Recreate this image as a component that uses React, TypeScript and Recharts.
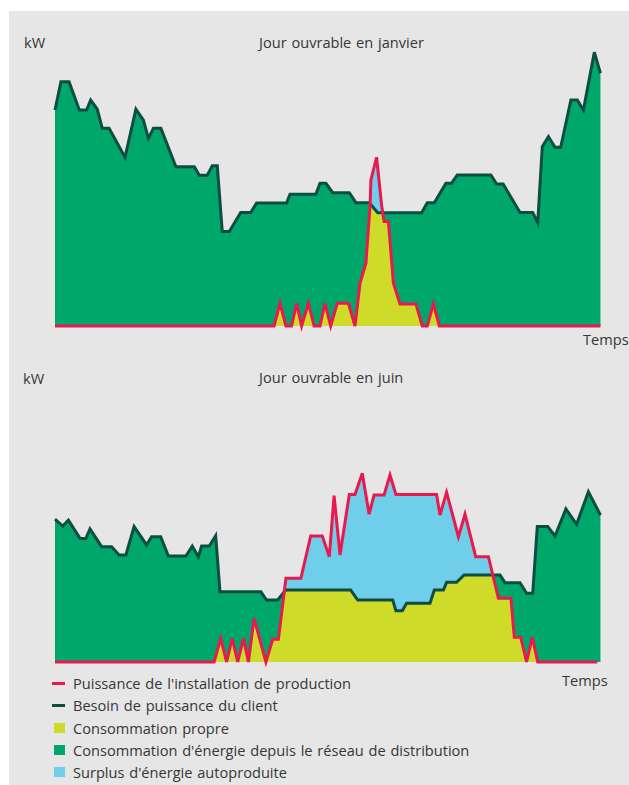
import React from 'react';
import { ComposedChart, Area, Line, XAxis, YAxis } from 'recharts';

// colours
const BG = '#e6e6e6';
const GRID_GREEN = '#00a76a';
const DEMAND_DARK = '#0e4d42';
const PROD_RED = '#e8194f';
const OWN_YELLOW = '#cfdb29';
const SURPLUS_BLUE = '#6fcfeb';
const TEXT = '#363636';
const FONT = '"Open Sans", sans-serif';

type Pt = [number, number]; // [hour, kW]

// Jour ouvrable en janvier
const janDemand: Pt[] = [
  [0, 73.2], [0.26, 82.8], [0.62, 82.8], [1.07, 73.2], [1.39, 73.2], [1.57, 76.6],
  [1.86, 73.5], [2.08, 67.0], [2.38, 67.0], [3.08, 57.2], [3.56, 73.5], [3.89, 69.8],
  [4.11, 63.6], [4.33, 67.0], [4.66, 67.0], [5.32, 54.0], [6.13, 54.0], [6.35, 51.1],
  [6.7, 51.1], [6.92, 54.3], [7.14, 54.3], [7.36, 32.0], [7.67, 32.0], [8.17, 38.5],
  [8.61, 38.5], [8.87, 41.7], [10.19, 41.7], [10.34, 44.7], [11.48, 44.7], [11.66, 48.4],
  [11.92, 48.4], [12.22, 45.2], [12.95, 45.2], [13.24, 41.8], [13.83, 41.8], [14.2, 38.4],
  [16.13, 38.4], [16.38, 41.8], [16.69, 41.8], [17.2, 48.4], [17.45, 48.4], [17.7, 51.2],
  [19.18, 51.2], [19.43, 48.1], [19.72, 48.1], [20.46, 38.5], [21.02, 38.5], [21.24, 35.0],
  [21.44, 60.8], [21.71, 64.2], [22.0, 60.6], [22.25, 60.6], [22.7, 76.6], [22.98, 76.6],
  [23.25, 73.2], [23.73, 92.8], [24, 85.7],
];
const janProduction: Pt[] = [
  [0, 0], [9.64, 0], [9.9, 7.7], [10.16, 0], [10.41, 0], [10.63, 7.7], [10.85, 0],
  [11.15, 7.7], [11.4, 0], [11.66, 0], [11.88, 7.7], [12.13, 0], [12.42, 7.7], [12.91, 7.7],
  [13.2, 0], [13.42, 14.5], [13.68, 21.3], [13.86, 40.4], [13.9, 49.5], [14.15, 57.2],
  [14.37, 41.0], [14.48, 35.4], [14.67, 35.4], [14.89, 14.5], [15.18, 7.5], [15.88, 7.5],
  [16.16, 0], [16.38, 0], [16.65, 7.5], [16.91, 0], [24, 0],
];

// Jour ouvrable en juin
const junDemand: Pt[] = [
  [0, 48.4], [0.34, 46.1], [0.59, 48.1], [1.1, 41.9], [1.36, 41.9], [1.54, 45.1],
  [2.05, 39.1], [2.49, 39.1], [2.82, 36.3], [3.12, 36.3], [3.48, 45.9], [4.03, 39.7],
  [4.25, 42.5], [4.65, 42.5], [4.99, 35.9], [5.76, 35.9], [6.04, 39.3], [6.31, 35.7],
  [6.45, 39.3], [6.79, 39.3], [7.07, 42.8], [7.26, 23.8], [9.06, 23.8], [9.31, 21.0],
  [9.8, 21.0], [10.15, 24.4], [13.01, 24.4], [13.32, 21.0], [14.86, 21.0], [15.0, 17.4],
  [15.28, 17.4], [15.47, 19.9], [16.5, 19.9], [16.69, 24.4], [17.09, 24.4], [17.23, 27.0],
  [17.67, 27.0], [18.0, 29.5], [19.58, 29.5], [19.8, 26.9], [20.46, 26.9], [20.75, 23.3],
  [21.02, 23.3], [21.22, 45.9], [21.68, 45.9], [22.0, 42.7], [22.48, 51.9], [22.95, 46.7],
  [23.47, 57.7], [24, 49.8],
];
const junProduction: Pt[] = [
  [0, 0], [7.0, 0], [7.29, 8.0], [7.55, 0], [7.8, 8.0], [8.04, 0], [8.29, 8.0], [8.51, 0],
  [8.76, 14.8], [9.28, 0], [9.58, 7.7], [9.83, 7.7], [10.16, 28.4], [10.82, 28.4],
  [11.25, 42.7], [11.76, 42.7], [12.07, 35.7], [12.28, 56.4], [12.54, 36.3], [12.95, 56.8],
  [13.2, 56.8], [13.52, 64.0], [13.82, 50.1], [14.04, 56.6], [14.48, 56.6], [14.74, 63.4],
  [15.0, 56.8], [16.79, 56.8], [16.94, 49.8], [17.23, 57.5], [17.75, 42.5], [18.04, 50.1],
  [18.51, 35.7], [19.07, 35.7], [19.51, 21.6], [20.06, 21.6], [20.21, 8.4], [20.49, 8.4],
  [20.75, 0], [21.0, 8.4], [21.24, 0], [23.86, 0],
];

const legendItems = [
  { label: "Puissance de l'installation de production", color: PROD_RED, kind: 'line' },
  { label: 'Besoin de puissance du client', color: DEMAND_DARK, kind: 'line' },
  { label: 'Consommation propre', color: OWN_YELLOW, kind: 'box' },
  { label: "Consommation d'énergie depuis le réseau de distribution", color: GRID_GREEN, kind: 'box' },
  { label: "Surplus d'énergie autoproduite", color: SURPLUS_BLUE, kind: 'box' },
];

function valueAt(s: Pt[], t: number): number | null {
  if (t < s[0][0] || t > s[s.length - 1][0]) return null;
  for (let i = 1; i < s.length; i++) {
    if (t <= s[i][0]) {
      const [t0, v0] = s[i - 1];
      const [t1, v1] = s[i];
      return t1 === t0 ? v1 : v0 + ((v1 - v0) * (t - t0)) / (t1 - t0);
    }
  }
  return s[s.length - 1][1];
}

// merge both series on one time axis; "own" = min(demand, production)
function buildRows(demand: Pt[], production: Pt[]) {
  const base = Array.from(new Set([...demand.map(p => p[0]), ...production.map(p => p[0])])).sort((a, b) => a - b);
  const ts = [...base];
  for (let i = 1; i < base.length; i++) {
    const a = base[i - 1];
    const b = base[i];
    const da = valueAt(demand, a), pa = valueAt(production, a);
    const db = valueAt(demand, b), pb = valueAt(production, b);
    if (da == null || pa == null || db == null || pb == null) continue;
    const fa = da - pa;
    const fb = db - pb;
    if (fa * fb < 0) ts.push(a + ((b - a) * fa) / (fa - fb));
  }
  ts.sort((a, b) => a - b);
  const dMap = new Map(demand.map(p => [p[0], p[1]]));
  const pMap = new Map(production.map(p => [p[0], p[1]]));
  return ts.map(t => {
    const d = valueAt(demand, t);
    const p = valueAt(production, t);
    return {
      t,
      demand: dMap.get(t),
      production: pMap.get(t),
      own: d != null && p != null ? Math.min(d, p) : undefined,
    };
  });
}

function DayChart({ rows }: { rows: ReturnType<typeof buildRows> }) {
  return (
    <ComposedChart width={629} height={340} data={rows} margin={{ top: 31, right: 24, bottom: 14, left: 55 }}>
      <XAxis
        dataKey="t"
        type="number"
        domain={[0, 24.2]}
        tick={false}
        tickLine={false}
        height={0}
        axisLine={{ stroke: '#555', strokeWidth: 1.5 }}
      />
      <YAxis
        type="number"
        domain={[0, 100]}
        tick={false}
        tickLine={false}
        width={0}
        axisLine={{ stroke: '#888', strokeWidth: 1.5 }}
      />
      <Area dataKey="demand" type="linear" connectNulls fill={GRID_GREEN} fillOpacity={1} stroke="none" isAnimationActive={false} />
      <Area dataKey="production" type="linear" connectNulls fill={SURPLUS_BLUE} fillOpacity={1} stroke="none" isAnimationActive={false} />
      <Area dataKey="own" type="linear" connectNulls fill={OWN_YELLOW} fillOpacity={1} stroke="none" isAnimationActive={false} />
      <Line dataKey="demand" type="linear" connectNulls stroke={DEMAND_DARK} strokeWidth={3} dot={false} isAnimationActive={false} />
      <Line dataKey="production" type="linear" connectNulls stroke={PROD_RED} strokeWidth={3} dot={false} isAnimationActive={false} />
    </ComposedChart>
  );
}

const txt = (left: number, top: number, extra: React.CSSProperties = {}): React.CSSProperties => ({
  position: 'absolute',
  left,
  top,
  fontFamily: FONT,
  fontSize: 14.6,
  wordSpacing: 1,
  lineHeight: '16px',
  color: TEXT,
  whiteSpace: 'nowrap',
  ...extra,
});

export default function App() {
  const janRows = buildRows(janDemand, janProduction);
  const junRows = buildRows(junDemand, junProduction);
  return (
    <div style={{ position: 'absolute', left: 0, top: 0, width: 629, height: 785 }}>
      <div style={{ position: 'absolute', left: 9, top: 11, width: 620, height: 774, background: BG }} />
      <div style={{ position: 'absolute', left: 0, top: 0 }}>
        <DayChart rows={janRows} />
      </div>
      <div style={{ position: 'absolute', left: 0, top: 336 }}>
        <DayChart rows={junRows} />
      </div>

      <div style={txt(24, 34)}>kW</div>
      <div style={txt(259, 34)}>Jour ouvrable en janvier</div>
      <div style={txt(583, 331)}>Temps</div>

      <div style={txt(23, 370)}>kW</div>
      <div style={txt(259, 369)}>Jour ouvrable en juin</div>
      <div style={txt(562, 672)}>Temps</div>

      {legendItems.map((item, i) => {
        const cy = 683 + i * 22.3;
        return (
          <React.Fragment key={item.label}>
            {item.kind === 'line' ? (
              <div style={{ position: 'absolute', left: 52, top: cy - 1.5, width: 13, height: 3, background: item.color }} />
            ) : (
              <div style={{ position: 'absolute', left: 54, top: cy - 5, width: 11, height: 10, background: item.color }} />
            )}
            <div style={txt(73, cy - 8)}>{item.label}</div>
          </React.Fragment>
        );
      })}
    </div>
  );
}
